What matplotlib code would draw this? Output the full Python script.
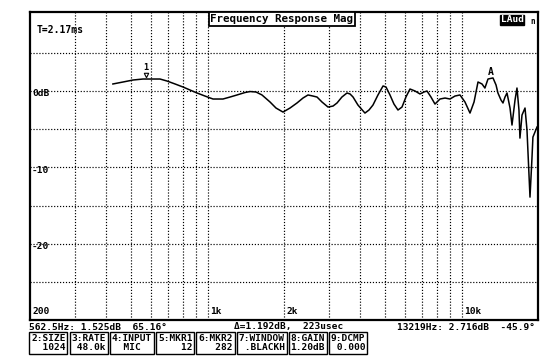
import matplotlib
matplotlib.use('Agg')
import matplotlib.pyplot as plt

# ---- data ----
freq_hz = [424, 465, 509, 557, 610, 650, 692, 745, 801, 853, 909, 977, 1051, 1150,
           1226, 1306, 1404, 1470, 1552, 1638, 1762, 1860, 1982, 2112, 2250, 2376,
           2486, 2600, 2698, 2822, 2980, 3120, 3234, 3381, 3540, 3640, 3740, 3910,
           4166, 4322, 4480, 4688, 4909, 5043, 5227, 5420, 5620, 5830, 6040, 6266,
           6560, 6862, 7114, 7311, 7580, 7860, 8226, 8610, 9005, 9422, 9860, 10316,
           10797, 11200, 11610, 12040, 12360, 12710, 13300, 13670, 13910, 14300,
           14560, 14830, 15100, 15520, 15800, 16240, 16530, 16830, 16980, 17300,
           17780, 18100, 18600, 18920, 19100, 19820]
mag_db = [0.92, 1.18, 1.44, 1.57, 1.57, 1.57, 1.31, 0.92, 0.52, 0.13, -0.26, -0.66,
          -1.05, -1.05, -0.79, -0.52, -0.2, -0.07, -0.13, -0.52, -1.44, -2.23, -2.76,
          -2.23, -1.57, -0.92, -0.52, -0.66, -0.79, -1.44, -2.10, -1.97, -1.57, -0.79,
          -0.26, -0.39, -0.79, -1.84, -2.89, -2.49, -1.84, -0.52, 0.66, 0.52, -0.52,
          -1.71, -2.49, -2.10, -0.79, 0.26, 0.0, -0.39, -0.13, 0.0, -0.79, -1.71,
          -1.05, -0.92, -1.05, -0.66, -0.52, -1.44, -2.89, -1.44, 1.18, 0.92, 0.39,
          1.57, 1.71, 0.79, -0.26, -1.18, -1.57, -0.79, -0.26, -2.23, -4.46, -1.18,
          0.39, -2.49, -6.17, -3.15, -2.23, -5.12, -13.9, -9.05, -6.04, -4.72]

grid_freqs = [300, 400, 500, 600, 700, 800, 900, 1000,
              2000, 3000, 4000, 5000, 6000, 7000, 8000, 9000, 10000]
grid_db = [-25, -20, -15, -10, -5, 0, 5]
x_labels = ['200', '1k', '2k', '10k']
x_label_freqs = [200, 1000, 2000, 10000]
y_labels = ['0dB', '-10', '-20']
y_label_db = [0, -10, -20]

title = 'Frequency Response Mag'
time_text = 'T=2.17ms'
marker1_freq, marker1_db = 560, 1.57
markerA_freq, markerA_db = 13219, 1.71
status_left = '562.5Hz: 1.525dB  65.16°'
status_mid = 'Δ=1.192dB,  223usec'
status_right = '13219Hz: 2.716dB  -45.9°'
menu_labels = ['2:SIZE', '3:RATE', '4:INPUT', '5:MKR1', '6:MKR2', '7:WINDOW', '8:GAIN', '9:DCMP']
menu_values = ['  1024', ' 48.0k', '  MIC', '    12', '   282', ' .BLACKH', '1.20dB', ' 0.000']

W, H = 560, 363
FONT = 'DejaVu Sans Mono'
FS = 6.8

fig = plt.figure(figsize=(W / 100, H / 100), dpi=100)
fig.patch.set_facecolor('white')

def fx(px):
    return px / W

def fy(py):
    return 1 - py / H

ax = fig.add_axes([fx(30), fy(320), 508 / W, 308 / H])
ax.set_xscale('log')
ax.set_xlim(200, 20000)
ax.set_ylim(-30, 10.35)
ax.set_xticks([])
ax.set_yticks([])
ax.minorticks_off()
for s in ax.spines.values():
    s.set_linewidth(1.6)
    s.set_color('black')

dots = (0, (1, 1.5))
for f in grid_freqs:
    ax.axvline(f, color='black', lw=0.85, ls=dots, zorder=1)
for d in grid_db:
    ax.axhline(d, color='black', lw=0.85, ls=dots, zorder=1)

ax.plot(freq_hz, mag_db, color='black', lw=1.1, zorder=3)

# axis labels inside plot
for f, lab in zip(x_label_freqs, x_labels):
    ax.text(f * 1.025, -28.9, lab, fontsize=FS, fontweight='bold',
            family=FONT, ha='left', va='center', zorder=4)
for d, lab in zip(y_label_db, y_labels):
    ax.text(203.5, d - 0.35, lab, fontsize=FS, fontweight='bold',
            family=FONT, ha='left', va='center', zorder=4)

# markers
ax.text(marker1_freq * 1.02, marker1_db + 1.45, '1', fontsize=6.3, fontweight='bold',
        family=FONT, ha='center', va='center', zorder=4)
ax.plot([marker1_freq * 1.02], [marker1_db + 0.55], marker='v', ms=3.2,
        mfc='white', mec='black', mew=0.8, zorder=4)
ax.text(markerA_freq * 0.99, markerA_db + 0.75, 'A', fontsize=7, fontweight='bold',
        family=FONT, ha='center', va='center', zorder=4)

# title box and top texts
fig.text(fx(282), fy(19), title, fontsize=7.8, fontweight='bold', family=FONT,
         ha='center', va='center',
         bbox=dict(boxstyle='square,pad=0.15', fc='white', ec='black', lw=1.3))
fig.text(fx(37), fy(30), time_text, fontsize=7, fontweight='bold', family=FONT,
         ha='left', va='center')
fig.text(fx(512), fy(20), 'LAud', fontsize=6.8, fontweight='bold', family=FONT,
         ha='center', va='center', color='white',
         bbox=dict(boxstyle='square,pad=0.1', fc='black', ec='black'))
fig.text(fx(530), fy(22), 'n', fontsize=5.5, fontweight='bold', family=FONT,
         ha='left', va='center')

# status line
fig.text(fx(29), fy(327), status_left, fontsize=FS, fontweight='bold', family=FONT,
         ha='left', va='center')
fig.text(fx(234), fy(327), status_mid, fontsize=FS, fontweight='bold', family=FONT,
         ha='left', va='center')
fig.text(fx(535), fy(327), status_right, fontsize=FS, fontweight='bold', family=FONT,
         ha='right', va='center')

# menu boxes, laid out one after another
fig.canvas.draw()
renderer = fig.canvas.get_renderer()
x = 31.0
for lab, val in zip(menu_labels, menu_values):
    t = fig.text(fx(x), fy(334), lab + '\n' + val, fontsize=FS, fontweight='bold',
                 family=FONT, ha='left', va='top', linespacing=1.05,
                 bbox=dict(boxstyle='square,pad=0.2', fc='white', ec='black', lw=1.0))
    fig.canvas.draw()
    ext = t.get_bbox_patch().get_window_extent(renderer)
    x = ext.x1 + 4

fig.savefig('out.png', dpi=100)
